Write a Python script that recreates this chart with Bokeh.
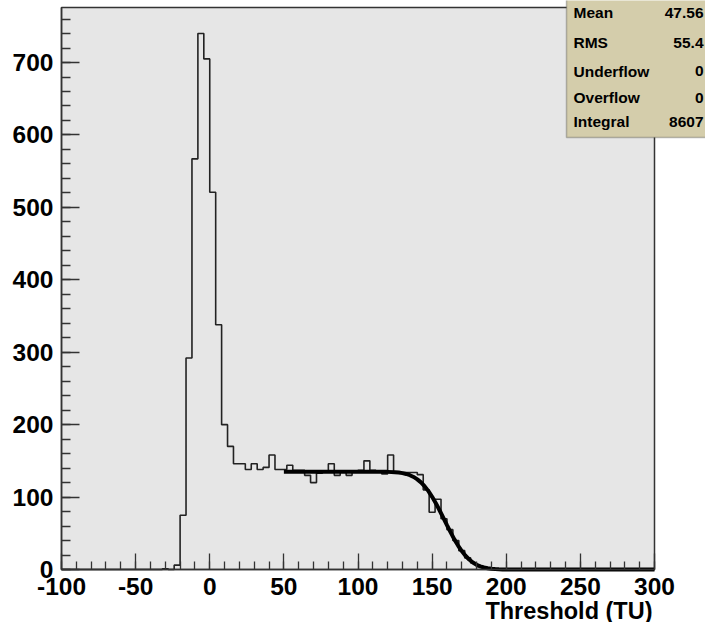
from bokeh.plotting import figure
from bokeh.models import SingleIntervalTicker, Label, BoxAnnotation, Range1d
from bokeh.embed import file_html
from bokeh.resources import INLINE

# ---- data ----
bin_lo = -100
bin_hi = 300
bin_width = 4
counts = [0, 0, 0, 0, 0, 0, 0, 0, 0, 0,
          0, 0, 0, 0, 0, 0, 0, 1, 0, 6,
          75, 292, 567, 740, 705, 521, 338, 200, 170, 146,
          146, 138, 146, 138, 141, 158, 138, 138, 144, 137,
          137, 130, 120, 133, 136, 146, 130, 136, 130, 136,
          137, 150, 137, 136, 132, 158, 134, 134, 134, 134,
          131, 110, 79, 97, 70, 55, 40, 26, 16, 9,
          4, 2, 1, 0, 0, 0, 0, 0, 0, 0,
          0, 0, 0, 0, 0, 0, 0, 0, 0, 0,
          0, 0, 0, 0, 0, 0, 0, 0, 0, 0]

fit_x = [50, 60, 70, 80, 90, 100, 110, 115, 120, 125, 127.5, 130, 132.5, 135,
         137.5, 140, 142.5, 145, 147.5, 150, 152.5, 155, 157.5, 160, 162.5,
         165, 167.5, 170, 172.5, 175, 177.5, 180, 182.5, 185, 187.5, 190,
         192.5, 195, 197.5, 200, 210, 250, 300]
fit_y = [135, 135, 135, 135, 135, 135, 135, 135, 134.8, 134.4, 133.9, 133.1,
         131.9, 130.2, 127.8, 124.5, 120.3, 114.8, 108.2, 100.4, 91.5, 81.8,
         71.6, 61.3, 51.2, 41.6, 33.0, 25.4, 19.0, 13.8, 9.7, 6.6, 4.4, 2.8,
         1.7, 1.0, 0.6, 0.3, 0.1, 0.0, 0.0, 0.0, 0.0]

x_tick_labels = ["-100", "-50", "0", "50", "100", "150", "200", "250", "300"]
y_tick_labels = ["0", "100", "200", "300", "400", "500", "600", "700"]
y_top = 776  # upper edge of the plotting area

stat_names = ["Mean", "RMS", "Underflow", "Overflow", "Integral"]
stat_values = ["47.56", "55.4", "0", "0", "8607"]

x_title = "Threshold (TU)"

# ---- layout (pixels) ----
FONT = "Liberation Sans"
W, H = 705, 622
AX_LEFT, AX_RIGHT, AX_BOTTOM = 61, 654, 569   # plotting-area edges on canvas
px_x = (AX_RIGHT - AX_LEFT) / (bin_hi - bin_lo)
px_y = (AX_BOTTOM - 7) / y_top
x_start = bin_lo - AX_LEFT / px_x
x_end = bin_lo + (W - AX_LEFT) / px_x
y_start = -(H - AX_BOTTOM) / px_y
y_end = AX_BOTTOM / px_y

p = figure(width=W, height=H,
           x_range=Range1d(x_start, x_end), y_range=Range1d(y_start, y_end),
           output_backend="svg", toolbar_location=None,
           min_border_left=0, min_border_right=0,
           min_border_top=0, min_border_bottom=0)
p.background_fill_color = "white"
p.border_fill_color = "white"
p.outline_line_color = None
p.xgrid.visible = False
p.ygrid.visible = False

# plotting area (gray) with frame
p.quad(left=[bin_lo], right=[bin_hi], bottom=[0], top=[y_top],
       fill_color="#e6e6e6", line_color="#333333", line_width=1.5)

# histogram as step line
edges = [bin_lo + bin_width * i for i in range(len(counts) + 1)]
step_y = counts + [counts[-1]]
p.step(edges, step_y, mode="after", line_color="#222222", line_width=1.6)

# fit curve
p.line(fit_x, fit_y, line_color="black", line_width=4)

# axes at fixed data locations
p.xaxis.fixed_location = 0
p.yaxis.fixed_location = bin_lo
p.xaxis.bounds = (bin_lo, bin_hi)
p.yaxis.bounds = (0, y_top)
p.xaxis.ticker = SingleIntervalTicker(interval=50, num_minor_ticks=5)
p.yaxis.ticker = SingleIntervalTicker(interval=100, num_minor_ticks=5)
for ax in (p.xaxis[0], p.yaxis[0]):
    ax.axis_line_color = "#333333"
    ax.axis_line_width = 1.5
    ax.major_tick_line_color = "#333333"
    ax.minor_tick_line_color = "#333333"
    ax.major_tick_line_width = 1.3
    ax.minor_tick_line_width = 1.3
    ax.major_tick_out = 0
    ax.minor_tick_out = 0
    ax.major_label_text_font = FONT
    ax.major_label_text_font_style = "bold"
    ax.major_label_text_font_size = "24.5px"
    ax.major_label_text_color = "black"
p.xaxis.major_tick_in = 16
p.xaxis.minor_tick_in = 8
p.yaxis.major_tick_in = 18
p.yaxis.minor_tick_in = 9
p.xaxis.major_label_standoff = 8
p.yaxis.major_label_standoff = 8
p.xaxis.major_label_overrides = {int(s): s for s in x_tick_labels}
p.yaxis.major_label_overrides = {int(s): s for s in y_tick_labels}

# axis title (right aligned, ROOT style)
p.add_layout(Label(x=652, y=12, x_units="screen", y_units="screen",
                   text=x_title, text_align="right", text_baseline="alphabetic",
                   text_font=FONT, text_font_style="bold",
                   text_font_size="23.5px", text_color="black"))

# stats box
p.add_layout(BoxAnnotation(left=566, right=W + 20, top=H + 20, bottom=H - 137,
                           left_units="screen", right_units="screen",
                           top_units="screen", bottom_units="screen",
                           fill_color="#d4cdab", fill_alpha=1.0,
                           line_color="#333333", line_width=1.5))
row_y = [12, 42, 70.5, 97, 121]
for name, val, yy in zip(stat_names, stat_values, row_y):
    p.add_layout(Label(x=573, y=H - yy, x_units="screen", y_units="screen",
                       text=name, text_align="left", text_baseline="middle",
                       text_font=FONT, text_font_style="bold",
                       text_font_size="15.5px", text_color="black"))
    p.add_layout(Label(x=703, y=H - yy, x_units="screen", y_units="screen",
                       text=val, text_align="right", text_baseline="middle",
                       text_font=FONT, text_font_style="bold",
                       text_font_size="15.5px", text_color="black"))

open("out.html", "w").write(file_html(p, INLINE))
